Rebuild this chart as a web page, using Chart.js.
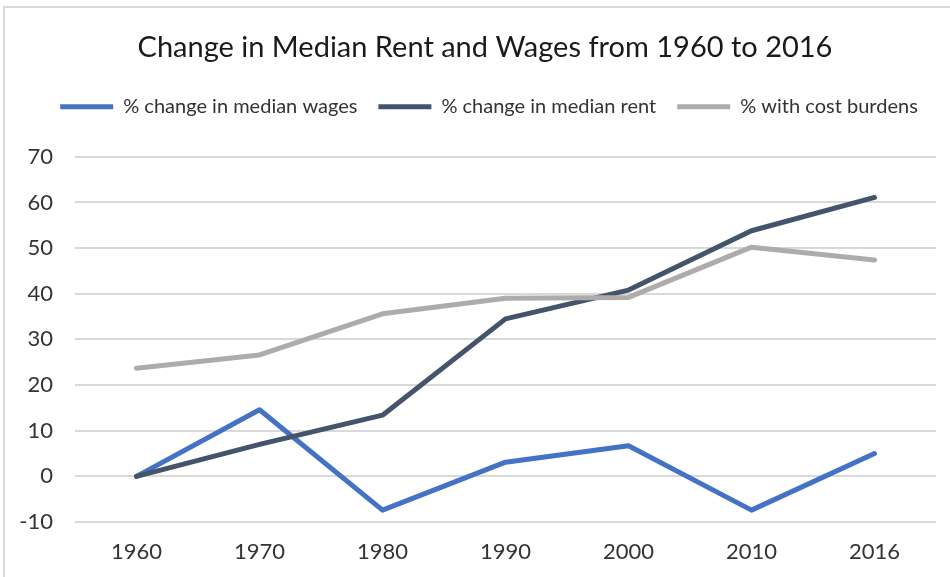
<!DOCTYPE html>
<html>
<head>
<meta charset="utf-8">
<script src="https://cdn.jsdelivr.net/npm/chart.js@4"></script>
<style>
  html, body { margin: 0; padding: 0; background: #fff; }
  #wrap { position: relative; width: 950px; height: 577px; }
  #frame { position: absolute; left: 3px; top: 6px; width: 947px; height: 571px;
           border-left: 2px solid #d9d9d9; border-top: 2px solid #d9d9d9; pointer-events: none; }
  canvas { position: absolute; left: 0; top: 0; }
</style>
</head>
<body>
<div id="wrap">
  <canvas id="c" width="950" height="577"></canvas>
  <div id="frame"></div>
</div>
<script>
const categories = ['1960', '1970', '1980', '1990', '2000', '2010', '2016'];
const wages = [0, 14.6, -7.4, 3.1, 6.7, -7.4, 5.0];
const rent = [0, 7.0, 13.4, 34.5, 40.8, 53.8, 61.1];
const costBurdens = [23.7, 26.6, 35.6, 39.0, 39.2, 50.2, 47.4];
const seriesNames = ['% change in median wages', '% change in median rent', '% with cost burdens'];
const yTicks = [-10, 0, 10, 20, 30, 40, 50, 60, 70];

const FONT = 'Lato';
const colors = ['#4472C4', '#44546A', '#AEABAB'];

const headerLayout = {
  id: 'headerLayout',
  beforeInit(chart) {
    const lg = chart.legend;
    if (!lg) return;
    const fit = lg.fit;
    lg.fit = function () { fit.call(this); this.height += 30; };
  },
  afterLayout(chart) {
    // shift the legend slightly right (keeping its width) to sit where the original does
    if (chart.legend) { chart.legend.left += 21; chart.legend.right += 21; }
    if (chart.titleBlock) chart.titleBlock.left = 34;
  }
};

new Chart(document.getElementById('c'), {
  type: 'line',
  data: {
    labels: categories,
    datasets: [wages, rent, costBurdens].map((d, i) => ({
      label: seriesNames[i],
      data: d,
      borderColor: colors[i],
      backgroundColor: colors[i],
      borderWidth: 5,
      pointRadius: 0,
      pointHoverRadius: 0,
      tension: 0,
      borderCapStyle: 'round',
      borderJoinStyle: 'round',
      order: 3 - i
    }))
  },
  plugins: [headerLayout],
  options: {
    responsive: false,
    animation: false,
    layout: { padding: { top: 30, right: 14, bottom: 0, left: 0 } },
    plugins: {
      tooltip: { enabled: false },
      title: {
        display: true,
        text: 'Change in Median Rent and Wages from 1960 to 2016',
        color: '#1a1a1a',
        font: { family: FONT, size: 29, weight: 'normal' },
        padding: { top: 0, bottom: 11 }
      },
      legend: {
        display: true,
        position: 'top',
        labels: {
          color: '#333',
          font: { family: FONT, size: 20 },
          usePointStyle: true,
          pointStyle: 'line',
          pointStyleWidth: 53,
          boxHeight: 20,
          padding: 21,
          sort: (a, b) => a.datasetIndex - b.datasetIndex
        }
      }
    },
    scales: {
      x: {
        offset: true,
        afterFit: (s) => { s.height = 55; },
        grid: { display: false, drawTicks: false },
        border: { display: false },
        ticks: { color: '#333', font: { family: FONT, size: 22 }, padding: 17 }
      },
      y: {
        min: -10,
        max: 70,
        afterBuildTicks: (s) => { s.ticks = yTicks.map(v => ({ value: v })); },
        afterFit: (s) => { s.width = 75; },
        grid: { color: '#d9d9d9', lineWidth: 2, drawTicks: false },
        border: { display: false },
        ticks: { color: '#333', font: { family: FONT, size: 22 }, padding: 22 }
      }
    }
  }
});
</script>
</body>
</html>
